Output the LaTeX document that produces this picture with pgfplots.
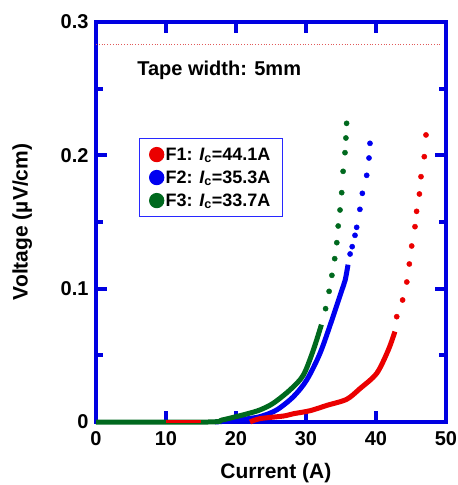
\documentclass[border=0pt]{standalone}
\usepackage{fontspec}
\setmainfont{Liberation Sans}
\usepackage{pgfplots}
\pgfplotsset{compat=1.18}
\definecolor{axisblue}{RGB}{0,0,225}
\definecolor{legblue}{RGB}{40,40,255}
\definecolor{cred}{RGB}{235,0,0}
\definecolor{cblue}{RGB}{0,0,240}
\definecolor{cgreen}{RGB}{0,105,30}
\definecolor{dotred}{RGB}{225,90,90}
\begin{document}
\begin{tikzpicture}
\useasboundingbox (-96bp,-63bp) rectangle (362bp,422bp);
\begin{axis}[
  at={(0,0)}, anchor=south west,
  scale only axis, width=350bp, height=400bp,
  xmin=0, xmax=50, ymin=0, ymax=0.3,
  xtick={0,10,20,30,40,50},
  ytick={0,0.1,0.2,0.3},
  minor ytick={0.05,0.15,0.25},
  tick align=inside,
  major tick length=11bp, minor tick length=7bp,
  tick style={line width=4bp, color=axisblue},
  axis line style={line width=4.5bp, color=axisblue},
  /pgf/number format/assume math mode=true,
  ticklabel style={font=\bfseries\fontsize{20bp}{24bp}\selectfont},
  xticklabel style={yshift=-6bp},
  yticklabel style={xshift=-4bp},
  xlabel={Current (A)},
  ylabel={Voltage (µV/cm)},
  label style={font=\bfseries\fontsize{21bp}{25bp}\selectfont},
  xlabel style={at={(axis description cs:0.514,-0.1275)}, anchor=center},
  ylabel style={at={(axis description cs:-0.211,0.5)}, anchor=center},
  legend style={at={(axis description cs:0.123,0.71)}, anchor=north west,
    draw=legblue, line width=1.3bp, fill=white,
    font=\bfseries\fontsize{18bp}{21bp}\selectfont,
    inner xsep=10bp, inner ysep=7bp, row sep=5bp},
  legend cell align=left,
  clip=false,
]
% dotted reference line
\addplot[dotred, dotted, line width=0.8bp, forget plot] coordinates {(0,0.283) (49.1,0.283)};

% F2 blue
\addplot[cblue, line width=5bp, smooth, tension=0.5, forget plot] coordinates {
(17,0) (19,0.0008) (21,0.002) (23.4,0.004) (25.8,0.009) (28.2,0.019) (30.1,0.0315) (32,0.0515) (33.7,0.0765) (35.0,0.097) (35.6,0.1065) (36.0,0.118)};
\addplot[only marks, mark=*, mark size=2.6bp, cblue, forget plot] coordinates {
(36.3,0.126) (36.6,0.1315) (37.0,0.140) (37.24,0.146) (37.7,0.1595) (38.05,0.1715) (38.67,0.185) (39.0,0.198) (39.14,0.209)};

% F1 red
\addplot[cred, line width=5bp, smooth, tension=0.5, forget plot] coordinates {
(22,0) (23.4,0.0025) (26.8,0.0045) (28.2,0.0062) (30.6,0.0085) (33,0.0125) (35.8,0.017) (37.7,0.025) (40.1,0.0365) (41.76,0.054) (42.7,0.0678)};
\addplot[only marks, mark=*, mark size=2.6bp, cred, forget plot] coordinates {
(42.96,0.079) (43.8,0.0915) (44.4,0.105) (44.76,0.1185) (45.1,0.132) (45.57,0.1465) (45.8,0.158) (46.2,0.171) (46.43,0.184) (46.9,0.199) (47.14,0.2153)};

% F3 green
\addplot[cgreen, line width=5bp, smooth, tension=0.5, forget plot] coordinates {
(0,0) (16,0) (18,0.0015) (20,0.004) (21.5,0.006) (23.4,0.009) (25.3,0.014) (27.7,0.024) (29.6,0.035) (31.05,0.054) (32.2,0.073)};
\addplot[only marks, mark=*, mark size=2.6bp, cgreen, forget plot] coordinates {
(32.8,0.085) (33.3,0.098) (33.7,0.110) (34.1,0.1225) (34.4,0.1345) (34.6,0.147) (34.86,0.159) (35.1,0.172) (35.3,0.188) (35.57,0.202) (35.7,0.213) (35.8,0.224)};

% F1 low segment
\addplot[cred, line width=3bp, forget plot] coordinates {(10,0.0004) (15,0.0004)};

\node[anchor=west, font=\bfseries\fontsize{20bp}{24bp}\selectfont] at (axis cs:5.4,0.264) {Tape width: 5mm};

\addlegendimage{only marks, mark=*, mark size=7bp, cred}
\addlegendentry{F1: {\itshape I}\textsubscript{c}=44.1A}
\addlegendimage{only marks, mark=*, mark size=7bp, cblue}
\addlegendentry{F2: {\itshape I}\textsubscript{c}=35.3A}
\addlegendimage{only marks, mark=*, mark size=7bp, cgreen}
\addlegendentry{F3: {\itshape I}\textsubscript{c}=33.7A}
\end{axis}
\end{tikzpicture}
\end{document}
